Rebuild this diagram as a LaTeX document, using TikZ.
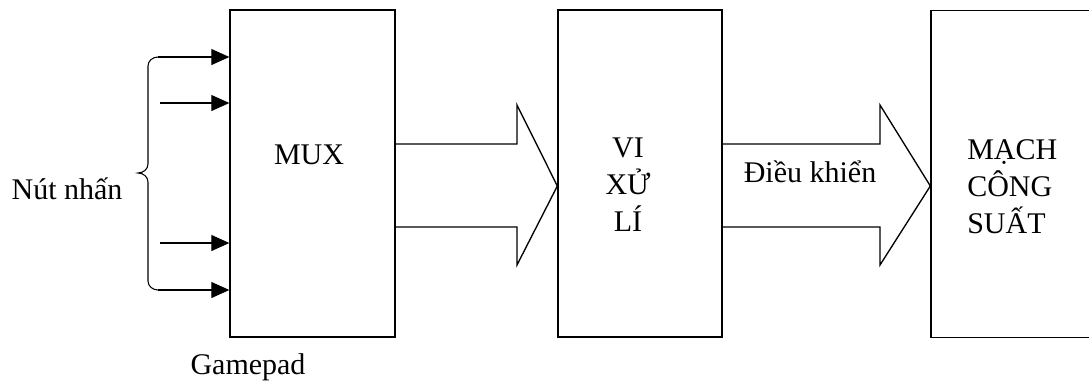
\documentclass[tikz,border=0pt]{standalone}
\usepackage{fontspec}
\setmainfont{Liberation Serif}
\usetikzlibrary{arrows.meta}
\tikzset{
  block/.style={draw, line width=1pt, minimum height=245.25pt, inner sep=0pt},
  lbl/.style={font=\fontsize{22.5}{27.75}\selectfont, inner sep=0pt},
  pin/.style={line width=0.8pt, -{Triangle[length=13.5pt,width=12pt]}},
  brace/.style={line width=0.8pt},
  fat/.style={line width=1pt, line join=miter},
}

\begin{document}
\begin{tikzpicture}[x=0.75pt, y=-0.75pt]
\useasboundingbox (0,0) rectangle (1089,383);
% boxes
\node[block, minimum width=123.75pt] (mux) at (312.5,173.5) {};
\node[block, minimum width=123pt] (cpu) at (640,173.5) {};
\node[block, minimum width=123pt] (pwr) at (1013,174) {};
\node[lbl] (muxt) at (309,155) {MUX};
\node[lbl, align=center] (cput) at (628,185) {VI\\XỬ\\LÍ};
\node[lbl, align=left, anchor=west] (pwrt) at (967,187) {MẠCH\\CÔNG\\SUẤT};
% buttons
\coordinate (k1) at (158,57);
\coordinate (k2) at (160,103);
\coordinate (k3) at (160,243);
\coordinate (k4) at (158,290);
\draw[brace] (k1) to[out=180,in=90] (148,66) -- (148,164) to[out=-90,in=0] (138,173)
  to[out=0,in=90] (148,182) -- (148,281) to[out=-90,in=180] (k4);
\draw[pin] (k1) -- (k1 -| mux.west);
\draw[pin] (k2) -- (k2 -| mux.west);
\draw[pin] (k3) -- (k3 -| mux.west);
\draw[pin] (k4) -- (k4 -| mux.west);
\node[lbl] (btn) at (67,189) {Nút nhấn};
\node[lbl] (pad) at (248,367) {Gamepad};
% wide arrows
\draw[fat] (mux.east |- 0,144) -- (517,144) -- (517,105) -- (cpu.west |- 0,186)
  -- (517,265) -- (517,227) -- (mux.east |- 0,227);
\draw[fat] (cpu.east |- 0,144) -- (880,144) -- (880,105) -- (pwr.west |- 0,186)
  -- (880,265) -- (880,227) -- (cpu.east |- 0,227);
\node[lbl] (ctl) at (810,172) {Điều khiển};
\end{tikzpicture}
\end{document}
